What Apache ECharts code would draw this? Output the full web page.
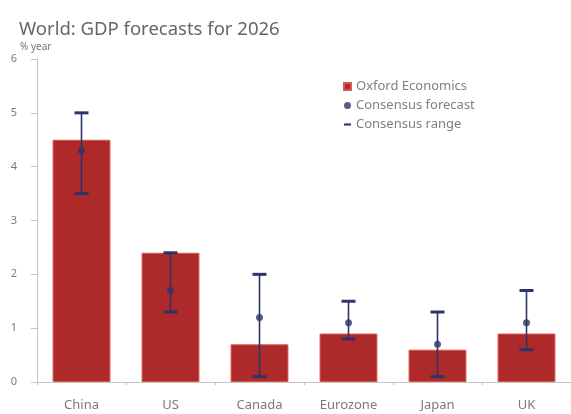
<!DOCTYPE html>
<html>
<head>
<meta charset="utf-8">
<script src="https://cdn.jsdelivr.net/npm/echarts@6/dist/echarts.min.js"></script>
<style>html,body{margin:0;padding:0;background:#fff;}#c{width:571px;height:414px;}</style>
</head>
<body>
<div id="c"></div>
<script>
const categories = ['China', 'US', 'Canada', 'Eurozone', 'Japan', 'UK'];
const oxfordEconomics = [4.5, 2.4, 0.7, 0.9, 0.6, 0.9];
const consensusForecast = [4.3, 1.7, 1.2, 1.1, 0.7, 1.1];
const consensusLow = [3.5, 1.3, 0.1, 0.8, 0.1, 0.6];
const consensusHigh = [5.0, 2.4, 2.0, 1.5, 1.3, 1.7];
const yTicks = [0, 1, 2, 3, 4, 5, 6];

const FONT = "'Noto Sans', 'Open Sans', sans-serif";
const NAVY = '#2D3568';
const rangeData = categories.map((c, i) => [i, consensusLow[i], consensusHigh[i]]);

const chart = echarts.init(document.getElementById('c'), null, {renderer: 'canvas'});
chart.setOption({
  animation: false,
  backgroundColor: '#fff',
  title: [
    {text: 'World: GDP forecasts for 2026', left: 14, top: 15,
     textStyle: {fontFamily: FONT, fontSize: 18.5, fontWeight: 'normal', color: '#666'}},
    {text: '% year', left: 15, top: 37,
     textStyle: {fontFamily: FONT, fontSize: 10, fontWeight: 'normal', color: '#777'}}
  ],
  legend: {
    orient: 'vertical', left: 338, top: 75,
    itemWidth: 7, itemHeight: 7, itemGap: 6,
    textStyle: {fontFamily: FONT, fontSize: 13, color: '#808080'},
    data: [
      {name: 'Oxford Economics', icon: 'rect'},
      {name: 'Consensus forecast', icon: 'circle'},
      {name: 'Consensus range', icon: 'path://M0,0 L10,0 L10,3 L0,3 Z'}
    ]
  },
  grid: {left: 37, right: -6, top: 59, bottom: 32},
  xAxis: {
    type: 'category', data: categories,
    axisLine: {lineStyle: {color: '#c4c4c4'}},
    axisTick: {show: true, length: 3, lineStyle: {color: '#c4c4c4'}},
    axisLabel: {fontFamily: FONT, fontSize: 13, color: '#7a7a7a', margin: 17}
  },
  yAxis: {
    type: 'value', min: yTicks[0], max: yTicks[yTicks.length - 1], interval: 1,
    axisLine: {show: true, lineStyle: {color: '#c4c4c4'}},
    axisTick: {show: true, length: 6, lineStyle: {color: '#c4c4c4'}},
    splitLine: {show: false},
    axisLabel: {fontFamily: FONT, fontSize: 11, color: '#7a7a7a', margin: 20}
  },
  series: [
    {
      name: 'Oxford Economics', type: 'bar', data: oxfordEconomics,
      barWidth: '65%',
      itemStyle: {color: '#AE2A2A', borderColor: '#D8584C', borderWidth: 1}
    },
    {
      name: 'Consensus range', type: 'custom', data: rangeData,
      itemStyle: {color: NAVY},
      encode: {x: 0, y: [1, 2]},
      z: 3,
      renderItem: function (params, api) {
        const x = api.value(0);
        const lo = api.coord([x, api.value(1)]);
        const hi = api.coord([x, api.value(2)]);
        const hw = 7;
        const style = {stroke: NAVY, lineWidth: 1.6};
        const cap = {stroke: NAVY, lineWidth: 3};
        return {
          type: 'group',
          children: [
            {type: 'line', shape: {x1: lo[0], y1: lo[1], x2: hi[0], y2: hi[1]}, style: style},
            {type: 'line', shape: {x1: lo[0] - hw, y1: lo[1], x2: lo[0] + hw, y2: lo[1]}, style: cap},
            {type: 'line', shape: {x1: hi[0] - hw, y1: hi[1], x2: hi[0] + hw, y2: hi[1]}, style: cap}
          ]
        };
      }
    },
    {
      name: 'Consensus forecast', type: 'scatter', data: consensusForecast,
      symbol: 'circle', symbolSize: 7, z: 4,
      itemStyle: {color: NAVY}
    }
  ]
});
</script>
</body>
</html>
